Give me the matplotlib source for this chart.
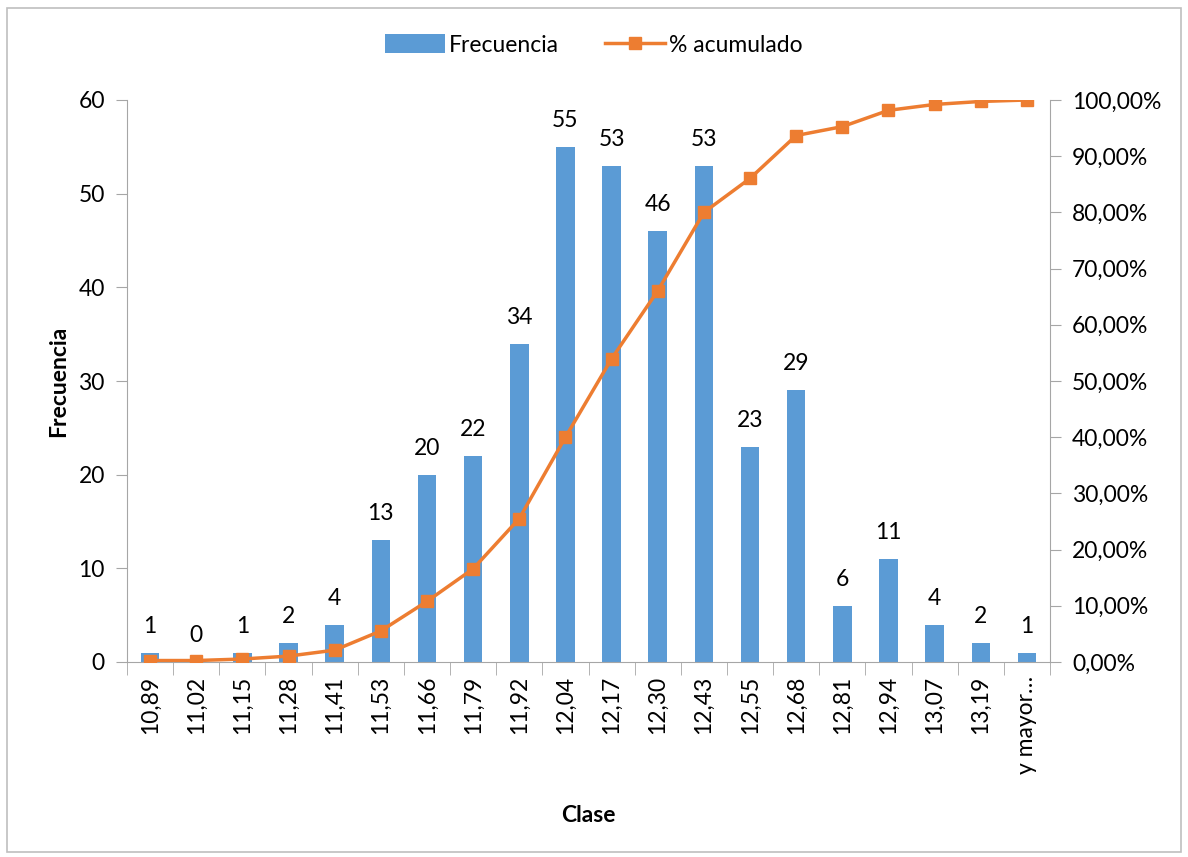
import matplotlib.pyplot as plt
import numpy as np
from matplotlib.ticker import FuncFormatter

plt.rcParams['font.family'] = ['Lato', 'DejaVu Sans']

# --- datos ---
clases = ["10,89", "11,02", "11,15", "11,28", "11,41", "11,53", "11,66", "11,79",
          "11,92", "12,04", "12,17", "12,30", "12,43", "12,55", "12,68", "12,81",
          "12,94", "13,07", "13,19", "y mayor…"]
frecuencia = [1, 0, 1, 2, 4, 13, 20, 22, 34, 55, 53, 46, 53, 23, 29, 6, 11, 4, 2, 1]
acumulado = [0.26, 0.26, 0.53, 1.05, 2.11, 5.53, 10.79, 16.58, 25.53, 40.00,
             53.95, 66.05, 80.00, 86.05, 93.68, 95.26, 98.16, 99.21, 99.74, 100.00]

azul = "#5B9BD5"
naranja = "#ED7D31"
gris = "#A6A6A6"
fs = 16.5

fig = plt.figure(figsize=(11.88, 8.57), dpi=100)
ax = fig.add_axes([127 / 1188, 1 - 662 / 857, 923 / 1188, 562 / 857])
x = np.arange(len(clases))

ax.bar(x, frecuencia, width=0.4, color=azul, label="Frecuencia", zorder=2)
for xi, v in zip(x, frecuencia):
    ax.text(xi, v + 1.7, str(v), ha="center", va="bottom", fontsize=fs)

ax.set_xlim(-0.5, len(clases) - 0.5)
ax.set_ylim(0, 60)
ax.set_yticks(range(0, 61, 10))
ax.set_xticks(x)
ax.set_xticklabels(clases, rotation=90, fontsize=fs)
ax.tick_params(axis="x", length=0, pad=10)
ax.set_xticks(np.arange(-0.5, len(clases)), minor=True)
ax.tick_params(axis="x", which="minor", length=9, color=gris, direction="out")
ax.tick_params(axis="y", labelsize=fs, length=8, color=gris, pad=8)

ax2 = ax.twinx()
ax2.plot(x, acumulado, color=naranja, linewidth=2.5, marker="s", markersize=9,
         label="% acumulado", zorder=3)
ax2.set_ylim(0, 100)
ax2.set_yticks(range(0, 101, 10))
ax2.yaxis.set_major_formatter(FuncFormatter(lambda v, p: f"{v:.2f}%".replace(".", ",")))
ax2.tick_params(axis="y", labelsize=fs, length=8, color=gris, pad=8)

for a in (ax, ax2):
    a.spines["top"].set_visible(False)
    for s in ("left", "right", "bottom"):
        a.spines[s].set_color(gris)
ax.spines["right"].set_visible(False)
ax2.spines["left"].set_visible(False)
ax2.spines["bottom"].set_visible(False)

ax.set_ylabel("Frecuencia", fontsize=fs, fontweight="bold")
ax.set_xlabel("Clase", fontsize=fs, fontweight="bold", labelpad=22)
ax.yaxis.set_label_coords(-58 / 923, 0.5)

h1, l1 = ax.get_legend_handles_labels()
h2, l2 = ax2.get_legend_handles_labels()
fig.legend(h1 + h2, l1 + l2, loc="center", bbox_to_anchor=(0.5, 1 - 45 / 857),
           ncol=2, frameon=False, fontsize=fs, handlelength=2.6, handleheight=0.9,
           handletextpad=0.2, columnspacing=2.0)

# marco exterior del grafico
fig.patches.append(plt.Rectangle((7 / 1188, 5 / 857), 1174 / 1188, 844 / 857,
                                 transform=fig.transFigure, fill=False,
                                 edgecolor="#BFBFBF", linewidth=1.2))

fig.savefig("out.png", dpi=100)
